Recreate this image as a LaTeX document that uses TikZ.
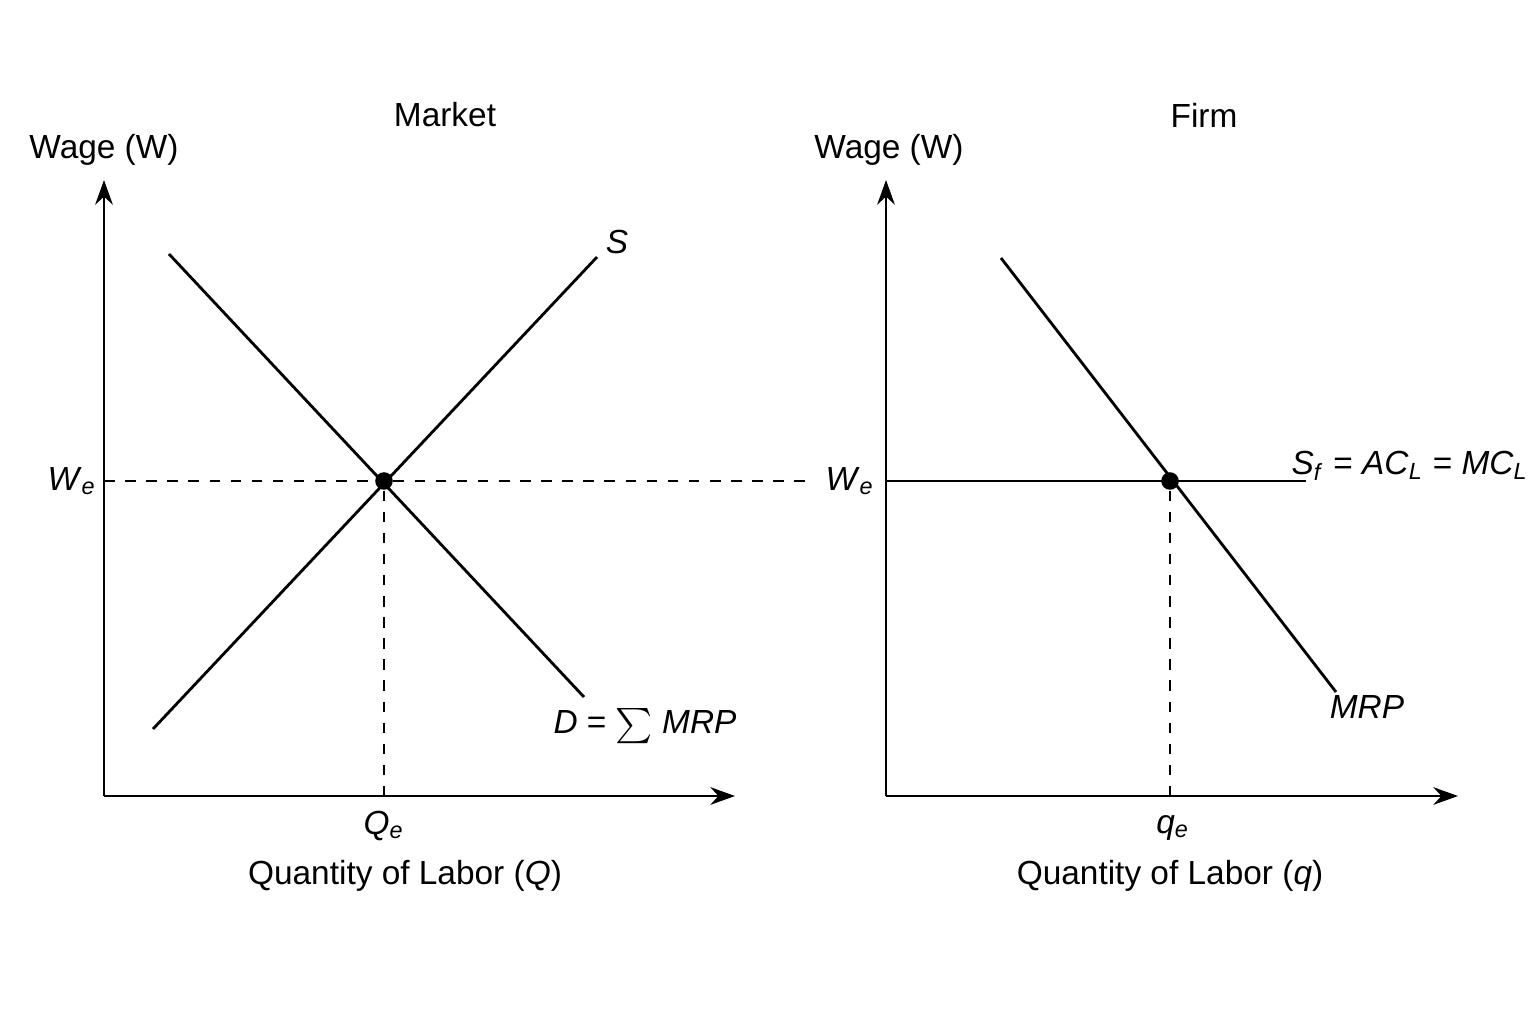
\documentclass[tikz,border=0pt]{standalone}
\usepackage{fontspec}
\setmainfont{Liberation Sans}
\usetikzlibrary{arrows.meta}
\newcommand{\sub}[1]{\textsubscript{#1}}
\begin{document}
\begin{tikzpicture}[
    x=0.01cm, y=-0.01cm,
    font=\fontsize{9.5}{11}\selectfont,
    axis/.style={-{Stealth[length=7pt,width=5pt]}, line width=0.8pt},
    curve/.style={line width=0.8pt},
    guide/.style={dashed, line width=0.7pt},
    dot/.style={circle, fill=black, inner sep=0pt, minimum size=5pt}
]
    \useasboundingbox (0,0) rectangle (1536,1024);

    % market
    \coordinate (m-o) at (104,796);
    \coordinate (m-y) at (104,180);
    \coordinate (m-x) at (735,796);
    \draw[axis] (m-o) -- (m-y);
    \draw[axis] (m-o) -- (m-x);
    \coordinate (d-start) at (169,254);
    \coordinate (d-end) at (584,697);
    \coordinate (s-start) at (153,729);
    \coordinate (s-end) at (597,257);
    \draw[curve] (d-start) -- (d-end);
    \draw[curve] (s-start) -- (s-end);
    \node[dot] (m-eq) at (384,481) {};
    \coordinate (m-we) at (104,481);
    \coordinate (m-qe) at (384,796);
    \coordinate (dash-end) at (812,481);
    \draw[guide] (m-we) -- (m-eq) -- (dash-end);
    \draw[guide] (m-eq) -- (m-qe);

    \node (market) at (445,115) {Market};
    \node (m-wage) at (104,150) {Wage (W)};
    \node (m-lbl-we) at (72,481) {\textit{W}\sub{\textit{e}}};
    \node (m-lbl-qe) at (384,826) {\textit{Q}\sub{\textit{e}}};
    \node (m-qty) at (405,876) {Quantity of Labor (\textit{Q})};
    \node (lbl-s) at (617,242) {\textit{S}};
    \node (lbl-d) at (645,726) {\textit{D} = $\sum$ \textit{MRP}};

    % firm
    \coordinate (f-o) at (886,796);
    \coordinate (f-y) at (886,180);
    \coordinate (f-x) at (1458,796);
    \draw[axis] (f-o) -- (f-y);
    \draw[axis] (f-o) -- (f-x);
    \coordinate (mrp-start) at (1001,258);
    \coordinate (mrp-end) at (1336,692);
    \draw[curve] (mrp-start) -- (mrp-end);
    \coordinate (f-we) at (886,481);
    \coordinate (sf-end) at (1306,481);
    \draw[curve] (f-we) -- (sf-end);
    \node[dot] (f-eq) at (1170,481) {};
    \coordinate (f-qe) at (1170,796);
    \draw[guide] (f-eq) -- (f-qe);

    \node (firm) at (1204,115) {Firm};
    \node (f-wage) at (889,150) {Wage (W)};
    \node (f-lbl-we) at (850,481) {\textit{W}\sub{\textit{e}}};
    \node (f-lbl-qe) at (1173,828) {\textit{q}\sub{\textit{e}}};
    \node (f-qty) at (1170,876) {Quantity of Labor (\textit{q})};
    \node (lbl-sf) at (1410,466) {\textit{S}\sub{\textit{f}} = \textit{AC}\sub{\textit{L}} = \textit{MC}\sub{\textit{L}}};
    \node (lbl-mrp) at (1367,707) {\textit{MRP}};
\end{tikzpicture}
\end{document}
